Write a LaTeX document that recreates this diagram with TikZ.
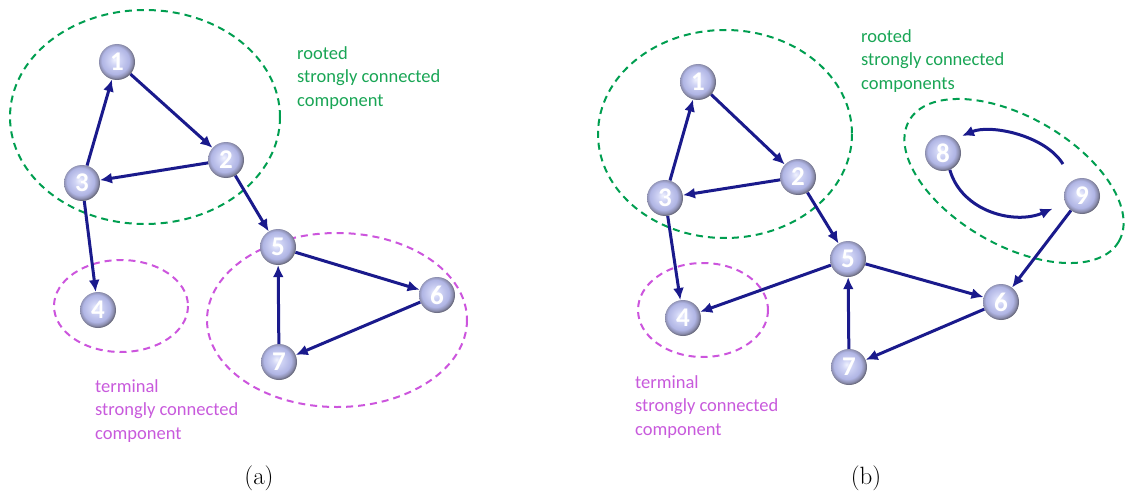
\documentclass[tikz,border=0pt]{standalone}
\usepackage{fontspec}
\newfontfamily\carlito{Carlito}
\usetikzlibrary{arrows.meta}
\definecolor{arrc}{RGB}{26,26,140}
\definecolor{grn}{RGB}{0,158,80}
\definecolor{grntext}{RGB}{25,165,85}
\definecolor{prp}{RGB}{204,85,221}
\definecolor{prptext}{RGB}{200,90,220}
\definecolor{ballA}{RGB}{240,242,254}
\definecolor{ballB}{RGB}{208,212,245}
\definecolor{ballC}{RGB}{176,181,228}
\definecolor{ballD}{RGB}{140,142,175}
\definecolor{ballE}{RGB}{70,70,78}
\pgfdeclareradialshading{nodeball}{\pgfpoint{-3.5bp}{3.5bp}}{color(0bp)=(ballA); color(7bp)=(ballB); color(19bp)=(ballC); color(23.5bp)=(ballD); color(28bp)=(ballE); color(50bp)=(ballE)}
\tikzset{
  ballnode/.style={circle, minimum size=36pt, inner sep=0pt, shading=nodeball, text=white, font=\carlito\bfseries\fontsize{27}{27}\selectfont},
  arr/.style={draw=arrc, line width=3pt, -{Latex[length=12pt,width=11pt]}},
  grnell/.style={draw=grn, line width=2pt, dash pattern=on 7pt off 5pt},
  prpell/.style={draw=prp, line width=2pt, dash pattern=on 7pt off 5pt},
  lbl/.style={anchor=north west, inner sep=0pt, align=left, font=\carlito\fontsize{18.5}{23.5}\selectfont},
  sublbl/.style={font=\fontsize{25}{25}\selectfont, inner sep=0pt}
}
\begin{document}
\begin{tikzpicture}[x=1pt,y=-1pt]
\useasboundingbox (0,0) rectangle (1126,500);
% ---------- (a) ----------
\draw[grnell] (145,117) ellipse [x radius=135, y radius=107];
\draw[prpell] (121,306) ellipse [x radius=67, y radius=46];
\draw[prpell] (337,320) ellipse [x radius=130, y radius=87];
\node[lbl, text=grntext] (ta1) at (297,46) {rooted\\strongly connected\\component};
\node[lbl, text=prptext] (ta2) at (95,379) {terminal\\strongly connected\\component};
\node[ballnode] (a1) at (117,62) {1};
\node[ballnode] (a2) at (226,160) {2};
\node[ballnode] (a3) at (82,183) {3};
\node[ballnode] (a4) at (98,310) {4};
\node[ballnode] (a5) at (278,247) {5};
\node[ballnode] (a6) at (437,295) {6};
\node[ballnode] (a7) at (279,362) {7};
\draw[arr] (a3) -- (a1);
\draw[arr] (a1) -- (a2);
\draw[arr] (a2) -- (a3);
\draw[arr] (a3) -- (a4);
\draw[arr] (a2) -- (a5);
\draw[arr] (a5) -- (a6);
\draw[arr] (a6) -- (a7);
\draw[arr] (a7) -- (a5);
\node[sublbl] (la) at (259,478) {(a)};
% ---------- (b) ----------
\draw[grnell] (725,134) ellipse [x radius=127, y radius=104];
\draw[grnell] (1014,181) [rotate around={-30:(1014,181)}] ellipse [x radius=121, y radius=64];
\draw[prpell] (703,310) ellipse [x radius=65, y radius=47];
\node[lbl, text=grntext] (tb1) at (861,29) {rooted\\strongly connected\\components};
\node[lbl, text=prptext] (tb2) at (635,375) {terminal\\strongly connected\\component};
\node[ballnode] (b1) at (698,82) {1};
\node[ballnode] (b2) at (798,177) {2};
\node[ballnode] (b3) at (665,198) {3};
\node[ballnode] (b4) at (683,318) {4};
\node[ballnode] (b5) at (848,259) {5};
\node[ballnode] (b6) at (1001,302) {6};
\node[ballnode] (b7) at (849,367) {7};
\node[ballnode] (b8) at (943,153) {8};
\node[ballnode] (b9) at (1082,196) {9};
\draw[arr] (b3) -- (b1);
\draw[arr] (b1) -- (b2);
\draw[arr] (b2) -- (b3);
\draw[arr] (b3) -- (b4);
\draw[arr] (b2) -- (b5);
\draw[arr] (b5) -- (b4);
\draw[arr] (b5) -- (b6);
\draw[arr] (b6) -- (b7);
\draw[arr] (b7) -- (b5);
\draw[arr] (b9) -- (b6);
\draw[arr, shorten <=19pt, shorten >=8pt] (b9.120) .. controls (1045,135) and (990,124) .. (b8.50);
\draw[arr, shorten >=14pt] (b8.-68) .. controls (962,212) and (1015,225) .. (b9.203);
\node[sublbl] (lb) at (866,478) {(b)};
\end{tikzpicture}
\end{document}
